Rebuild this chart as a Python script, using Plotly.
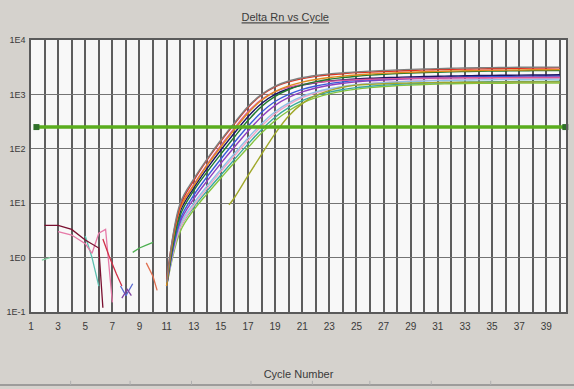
import plotly.graph_objects as go

# ---------------- data ----------------
cycles_amp = list(range(11, 41))
cycles_late = [15.6] + list(range(16, 41))

rn_gray = [0.35, 10, 28, 66, 145, 300, 600, 1000, 1420, 1760, 2020, 2220, 2380, 2500, 2600,
           2680, 2750, 2820, 2880, 2930, 2980, 3020, 3060, 3090, 3110, 3130, 3150, 3160, 3170, 3170]
rn_red = [0.4, 9, 26, 63, 138, 288, 575, 977, 1380, 1700, 1950, 2140, 2290, 2400, 2510,
          2570, 2630, 2690, 2750, 2820, 2850, 2880, 2910, 2950, 2970, 2990, 3020, 3040, 3060, 3080]
rn_orange = [0.3, 8, 21, 50, 108, 225, 450, 780, 1130, 1430, 1680, 1880, 2040, 2170, 2280,
             2370, 2440, 2500, 2560, 2610, 2650, 2690, 2720, 2750, 2770, 2790, 2810, 2830, 2840, 2850]
rn_darkgreen = [0.3, 6, 17, 38, 80, 165, 330, 600, 920, 1230, 1500, 1720, 1900, 2040, 2160,
                2260, 2340, 2410, 2470, 2520, 2560, 2600, 2630, 2660, 2680, 2700, 2720, 2730, 2740, 2750]
rn_pink = [0.3, 8, 22, 52, 115, 240, 480, 800, 1120, 1360, 1530, 1650, 1740, 1810, 1860,
           1900, 1930, 1950, 1970, 1985, 2000, 2010, 2020, 2025, 2030, 2035, 2040, 2040, 2045, 2050]
rn_navy = [0.3, 7, 19, 44, 95, 195, 390, 680, 1000, 1270, 1480, 1640, 1760, 1850, 1920,
           1980, 2020, 2060, 2100, 2130, 2160, 2180, 2200, 2220, 2240, 2250, 2260, 2270, 2280, 2290]
rn_blue = [0.3, 5, 14, 31, 65, 132, 260, 470, 740, 1000, 1240, 1430, 1580, 1700, 1790,
           1860, 1920, 1970, 2010, 2040, 2070, 2090, 2110, 2130, 2140, 2150, 2160, 2170, 2180, 2190]
rn_purple = [0.3, 4.5, 12, 26, 54, 108, 210, 390, 630, 880, 1110, 1310, 1470, 1600, 1700,
             1780, 1840, 1890, 1930, 1960, 1990, 2010, 2030, 2040, 2050, 2060, 2070, 2080, 2085, 2090]
rn_lightblue = [0.3, 4, 10, 21, 42, 82, 158, 290, 480, 700, 920, 1110, 1270, 1400, 1500,
                1580, 1640, 1690, 1730, 1760, 1790, 1810, 1830, 1850, 1860, 1870, 1880, 1890, 1900, 1905]
rn_lightpink = [0.3, 3.5, 9, 19, 38, 74, 142, 260, 440, 650, 870, 1070, 1240, 1380, 1500,
                1590, 1660, 1720, 1770, 1810, 1840, 1870, 1890, 1910, 1930, 1940, 1950, 1960, 1970, 1990]
rn_teal = [0.3, 3.5, 8.5, 17, 33, 64, 122, 225, 380, 570, 770, 950, 1100, 1230, 1330,
           1410, 1480, 1530, 1570, 1610, 1640, 1660, 1680, 1700, 1710, 1720, 1725, 1730, 1735, 1740]
rn_lightgreen = [0.3, 3, 7.5, 15, 29, 56, 105, 195, 330, 500, 690, 870, 1020, 1150, 1250,
                 1330, 1400, 1450, 1490, 1520, 1550, 1570, 1585, 1595, 1600, 1605, 1610, 1615, 1620, 1620]
rn_olive = [9.3, 12.6, 32, 79, 190, 400, 676, 955, 1175, 1350, 1480, 1530, 1570, 1600, 1620, 1640,
            1650, 1660, 1670, 1675, 1680, 1685, 1690, 1695, 1700, 1700]

# baseline noise fragments (cycle, delta Rn)
noise_darkred_x = [2, 3, 4, 5, 6, 6.3]
noise_darkred_y = [3.9, 3.9, 3.3, 2.1, 1.5, 0.12]
noise_pink_x = [3, 4, 5, 5.5, 6, 6.5, 7]
noise_pink_y = [3.0, 2.6, 1.8, 1.2, 2.8, 3.3, 0.15]
noise_red_x = [6.3, 6.8, 7.3, 7.7]
noise_red_y = [2.2, 1.0, 0.5, 0.3]
noise_blue_x = [7.6, 8.0, 8.5]
noise_blue_y = [0.3, 0.2, 0.33]
noise_purple_x = [7.7, 8.1, 8.4]
noise_purple_y = [0.18, 0.26, 0.2]
noise_green_x = [8.5, 9, 9.5, 10]
noise_green_y = [1.25, 1.5, 1.7, 1.9]
noise_orange_x = [9.5, 10, 10.3]
noise_orange_y = [0.8, 0.45, 0.25]
noise_teal_x = [5, 5.5, 6]
noise_teal_y = [2.5, 1.0, 0.3]
noise_mint_x = [1.8, 2.4]
noise_mint_y = [0.9, 1.0]

threshold_x = [1.4, 40.4]
threshold_y = [251, 251]

x_ticks = list(range(1, 41))
x_labels = [str(c) if c % 2 == 1 else "" for c in x_ticks]
y_ticks = [0.1, 1, 10, 100, 1000, 10000]
y_labels = ["1E-1", "1E0", "1E1", "1E2", "1E3", "1E4"]

# ---------------- figure ----------------
fig = go.Figure()

noise = [
    (noise_mint_x, noise_mint_y, "#7fd0a0"),
    (noise_teal_x, noise_teal_y, "#5cc0b0"),
    (noise_pink_x, noise_pink_y, "#e67aa8"),
    (noise_darkred_x, noise_darkred_y, "#7a1030"),
    (noise_red_x, noise_red_y, "#d03048"),
    (noise_blue_x, noise_blue_y, "#5a6ad0"),
    (noise_purple_x, noise_purple_y, "#8040a0"),
    (noise_green_x, noise_green_y, "#4caf50"),
    (noise_orange_x, noise_orange_y, "#e07050"),
]
for xs, ys, col in noise:
    fig.add_trace(go.Scatter(x=xs, y=ys, mode="lines", line=dict(color=col, width=1.3),
                             showlegend=False, hoverinfo="skip"))

curves = [
    (rn_lightgreen, "#86c440"),
    (rn_teal, "#39a89b"),
    (rn_lightpink, "#f2a6c6"),
    (rn_lightblue, "#8fbfe8"),
    (rn_purple, "#8e3fbf"),
    (rn_blue, "#3a5bd9"),
    (rn_navy, "#1b1464"),
    (rn_pink, "#d9579a"),
    (rn_darkgreen, "#1f7a2e"),
    (rn_orange, "#e08a1e"),
    (rn_red, "#e0301e"),
    (rn_gray, "#7f7f7f"),
]
for ys, col in curves:
    fig.add_trace(go.Scatter(x=cycles_amp, y=ys, mode="lines", line=dict(color=col, width=1.4, shape="spline"),
                             showlegend=False, hoverinfo="skip"))
fig.add_trace(go.Scatter(x=cycles_late, y=rn_olive, mode="lines",
                         line=dict(color="#a0a82a", width=1.4, shape="spline"),
                         showlegend=False, hoverinfo="skip"))

fig.add_trace(go.Scatter(x=threshold_x, y=threshold_y, mode="lines+markers",
                         line=dict(color="#5aad1e", width=3.5),
                         marker=dict(symbol="square", size=6, color="#2f6f2a"),
                         showlegend=False, hoverinfo="skip", cliponaxis=False))

grid_col = "#5e5e5e"
fig.update_xaxes(range=[1, 40.45], tickvals=x_ticks, ticktext=x_labels,
                 showgrid=True, gridcolor=grid_col, gridwidth=1.6,
                 showline=True, linecolor="#5a5a5a", linewidth=1.5, mirror=True,
                 zeroline=False, ticks="", ticklabelstandoff=4,
                 tickfont=dict(family="Liberation Sans, Arial", size=10, color="#3a3a3a"),
                 title=dict(text="Cycle Number", standoff=40,
                            font=dict(family="Liberation Sans, Arial", size=11, color="#3a3a3a")))
fig.update_yaxes(type="log", range=[-1, 4], tickvals=y_ticks, ticktext=y_labels,
                 showgrid=True, gridcolor="#747474", gridwidth=1.2,
                 showline=True, linecolor="#5a5a5a", linewidth=1.5, mirror=True,
                 zeroline=False, ticks="", ticklabelstandoff=2,
                 tickfont=dict(family="Liberation Sans, Arial", size=9, color="#3a3a3a"))

# window strip at the bottom
shapes = [dict(type="line", xref="paper", yref="paper", x0=-0.06, x1=1.02, y0=-0.268, y1=-0.268,
               line=dict(color="#8a8a8a", width=1.5))]
for px in [68, 128, 190, 250, 312, 370, 432, 492]:
    xp = (px - 28) / 540
    shapes.append(dict(type="line", xref="paper", yref="paper", x0=xp, x1=xp, y0=-0.268, y1=-0.253,
                       line=dict(color="#b0b0b0", width=1)))
fig.update_layout(shapes=shapes)

fig.update_layout(
    width=574, height=389,
    margin=dict(l=28, r=6, t=40, b=77),
    paper_bgcolor="#d5d2cd",
    plot_bgcolor="#f8f8f8",
    title=dict(text="<u>Delta Rn vs Cycle</u>", x=0.497, xanchor="center", y=0.955, yanchor="middle",
               font=dict(family="Liberation Sans, Arial", size=11, color="#3a3a3a")),
)

fig.write_html("out.html")
